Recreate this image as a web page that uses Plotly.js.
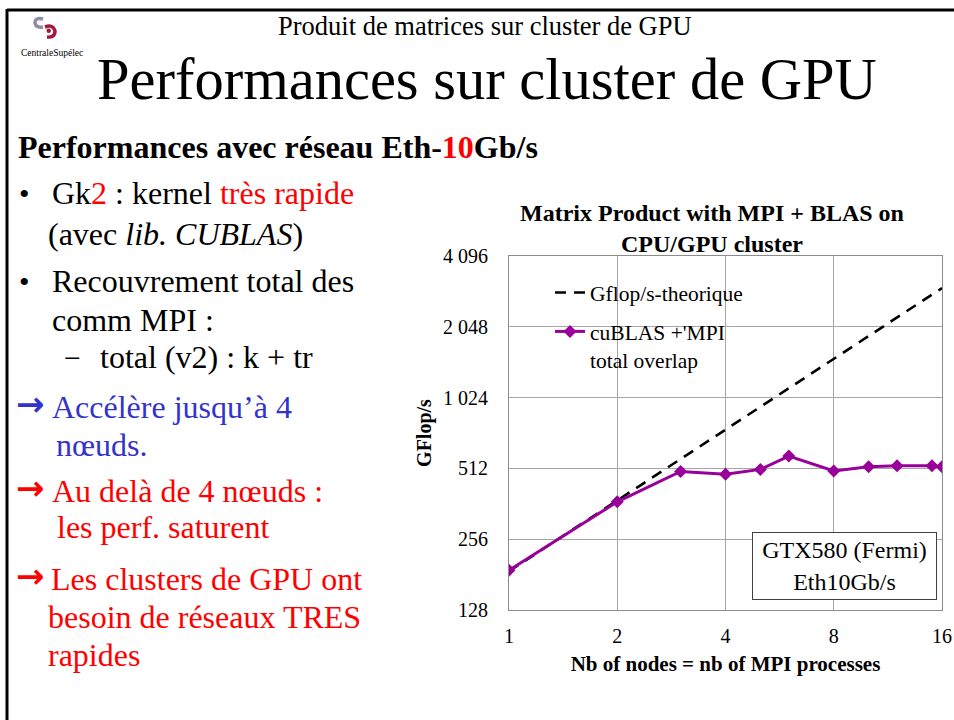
<!DOCTYPE html>
<html>
<head>
<meta charset="utf-8">
<script src="https://cdn.plot.ly/plotly-3.0.1.min.js"></script>
<style>
html,body{margin:0;padding:0;background:#fff;}
#chart{width:954px;height:720px;}
</style>
</head>
<body>
<div id="chart"></div>
<script>
// ---- data ----
const nodes = [1, 2, 3, 4, 5, 6, 8, 10, 12, 15, 16];
const gflopsTheorique = [187, 374, 561, 748, 935, 1122, 1496, 1870, 2244, 2805, 2992];
const gflopsCublasMpi = [189, 369, 497, 483, 507, 578, 499, 520, 526, 526, 520];
const xTickVals = [1, 2, 4, 8, 16];
const xTickText = ['1', '2', '4', '8', '16'];
const yTickVals = [128, 256, 512, 1024, 2048, 4096];
const yTickText = ['128', '256', '512', '1 024', '2 048', '4 096'];
const seriesNames = ['Gflop/s-theorique', "cuBLAS +'MPI<br>total overlap"];

// ---- geometry helpers (plot area in px) ----
const L = 509, R = 942, T = 256, B = 610;
const PX = x => (x - L) / (R - L);
const PY = y => (B - y) / (B - T);
const SERIF = 'Liberation Serif';
const ARROWFONT = 'DejaVu Sans';

function txt(x, y, text, size, color, extra) {
  return Object.assign({
    xref: 'paper', yref: 'paper', x: PX(x), y: PY(y),
    xanchor: 'left', yanchor: 'middle', showarrow: false,
    text: text, font: {family: SERIF, size: size, color: color || '#000'}
  }, extra || {});
}
function arrow(x, y, color) {
  return {
    xref: 'paper', yref: 'paper', x: PX(x), y: PY(y),
    xanchor: 'left', yanchor: 'middle', showarrow: false,
    text: '<b>→</b>', font: {family: ARROWFONT, size: 34, color: color}
  };
}

const RED = '#ff0000', BLUE = '#3333cc';

const annotations = [
  txt(485, 26, 'Produit de matrices sur cluster de GPU', 26.5, '#000', {xanchor: 'center'}),
  txt(487, 80, 'Performances sur cluster de GPU', 58.5, '#000', {xanchor: 'center'}),
  txt(52, 53, 'CentraleSupélec', 9.5, '#000', {xanchor: 'center'}),
  txt(16, 147, '<b>Performances avec réseau Eth-<span style="color:' + RED + '">10</span>Gb/s</b>', 32, '#000'),
  txt(17, 193, '•', 30, '#000'),
  txt(50, 193, 'Gk<span style="color:' + RED + '">2</span> : kernel <span style="color:' + RED + '">très rapide</span>', 32, '#000'),
  txt(46, 234, '(avec <i>lib. CUBLAS</i>)', 32, '#000'),
  txt(17, 281, '•', 30, '#000'),
  txt(50, 281, 'Recouvrement total des', 32, '#000'),
  txt(50, 320, 'comm MPI :', 32, '#000'),
  txt(62, 357, '−', 30, '#000'),
  txt(98, 357, 'total (v2) : k + tr', 32, '#000'),
  arrow(14, 404, BLUE),
  txt(50, 407, 'Accélère jusqu’à 4', 32, BLUE),
  txt(54, 445, 'nœuds.', 32, BLUE),
  arrow(14, 488, RED),
  txt(50, 491, 'Au delà de 4 nœuds :', 32, RED),
  txt(55, 527, 'les perf. saturent', 32, RED),
  arrow(14, 576, RED),
  txt(49, 579, 'Les clusters de GPU ont', 32, RED),
  txt(46, 617, 'besoin de réseaux TRES', 32, RED),
  txt(46, 655, 'rapides', 32, RED),
  {
    xref: 'paper', yref: 'paper', x: PX(844.5), y: PY(566),
    xanchor: 'center', yanchor: 'middle', showarrow: false,
    text: 'GTX580 (Fermi)<br>Eth10Gb/s', align: 'center',
    font: {family: SERIF, size: 24, color: '#000'},
    bgcolor: '#ffffff', bordercolor: '#404040', borderwidth: 1,
    width: 181, height: 64
  }
];

const shapes = [
  // slide frame
  {type: 'line', xref: 'paper', yref: 'paper', x0: PX(7), x1: PX(7), y0: PY(9), y1: PY(725), line: {color: '#000', width: 3}},
  {type: 'line', xref: 'paper', yref: 'paper', x0: PX(7), x1: PX(960), y0: PY(10), y1: PY(10), line: {color: '#000', width: 3}},
  // logo: grey hook
  {type: 'path', xref: 'paper', yref: 'paper',
   path: 'M ' + PX(43) + ',' + PY(19) + ' Q ' + PX(35) + ',' + PY(17) + ' ' + PX(35) + ',' + PY(23) +
         ' Q ' + PX(36) + ',' + PY(28) + ' ' + PX(43) + ',' + PY(27),
   line: {color: '#8c8ca6', width: 3.5}},
  // logo: red spiral
  {type: 'path', xref: 'paper', yref: 'paper',
   path: 'M ' + PX(45) + ',' + PY(27) + ' Q ' + PX(53) + ',' + PY(24) + ' ' + PX(55) + ',' + PY(31) +
         ' Q ' + PX(55) + ',' + PY(38) + ' ' + PX(47) + ',' + PY(37),
   line: {color: '#a3183c', width: 3.5}},
  {type: 'circle', xref: 'paper', yref: 'paper', x0: PX(46.5), x1: PX(51), y0: PY(28.5), y1: PY(33),
   fillcolor: '#a3183c', line: {color: '#a3183c', width: 0}},
  // legend background patch (covers grid under legend)
  {type: 'rect', xref: 'paper', yref: 'paper', layer: 'between',
   x0: PX(520), x1: PX(760), y0: PY(278), y1: PY(338),
   fillcolor: '#ffffff', line: {width: 0}}
];

const traces = [
  {
    x: nodes, y: gflopsTheorique, name: seriesNames[0], legendgroup: 'a',
    type: 'scatter', mode: 'lines',
    line: {color: '#000000', width: 2.6, dash: '11px,8px'}
  },
  {
    x: nodes, y: gflopsCublasMpi, name: seriesNames[1], legendgroup: 'b',
    type: 'scatter', mode: 'lines+markers',
    line: {color: '#990099', width: 3},
    marker: {symbol: 'diamond', size: 10, color: '#990099'}
  }
];

const layout = {
  width: 954, height: 720,
  margin: {l: L, r: 954 - R, t: T, b: 720 - B, pad: 0},
  paper_bgcolor: '#ffffff', plot_bgcolor: '#ffffff',
  font: {family: SERIF, size: 20, color: '#000'},
  title: {
    text: '<b>Matrix Product with MPI + BLAS on<br>CPU/GPU cluster</b>',
    font: {family: SERIF, size: 24, color: '#000'},
    xref: 'container', yref: 'container',
    x: 712 / 954, xanchor: 'center', y: 1 - 221 / 720, yanchor: 'middle'
  },
  showlegend: true,
  legend: {
    x: PX(550), y: PY(272), xanchor: 'left', yanchor: 'top',
    bgcolor: 'rgba(0,0,0,0)', borderwidth: 0,
    font: {family: SERIF, size: 21.5, color: '#000'},
    traceorder: 'grouped', tracegroupgap: 8, valign: 'top',
    itemwidth: 30
  },
  xaxis: {
    type: 'log', range: [0, Math.log10(16)],
    tickvals: xTickVals, ticktext: xTickText,
    showgrid: true, gridcolor: '#a6a6a6', gridwidth: 1,
    showline: true, linecolor: '#8c8c8c', linewidth: 1, mirror: true,
    ticks: '', ticklabelstandoff: 8, zeroline: false,
    tickfont: {family: SERIF, size: 20, color: '#000'},
    title: {text: '<b>Nb of nodes = nb of MPI processes</b>', font: {family: SERIF, size: 21, color: '#000'}, standoff: 10}
  },
  yaxis: {
    type: 'log', range: [Math.log10(128), Math.log10(4096)],
    tickvals: yTickVals, ticktext: yTickText,
    showgrid: true, gridcolor: '#a6a6a6', gridwidth: 1,
    showline: true, linecolor: '#8c8c8c', linewidth: 1, mirror: true,
    ticks: '', ticklabelstandoff: 16, zeroline: false,
    tickfont: {family: SERIF, size: 20, color: '#000'},
    title: {text: '<b>GFlop/s</b>', font: {family: SERIF, size: 20, color: '#000'}, standoff: 6}
  },
  annotations: annotations,
  shapes: shapes
};

Plotly.newPlot('chart', traces, layout, {displayModeBar: false, staticPlot: true});
</script>
</body>
</html>
